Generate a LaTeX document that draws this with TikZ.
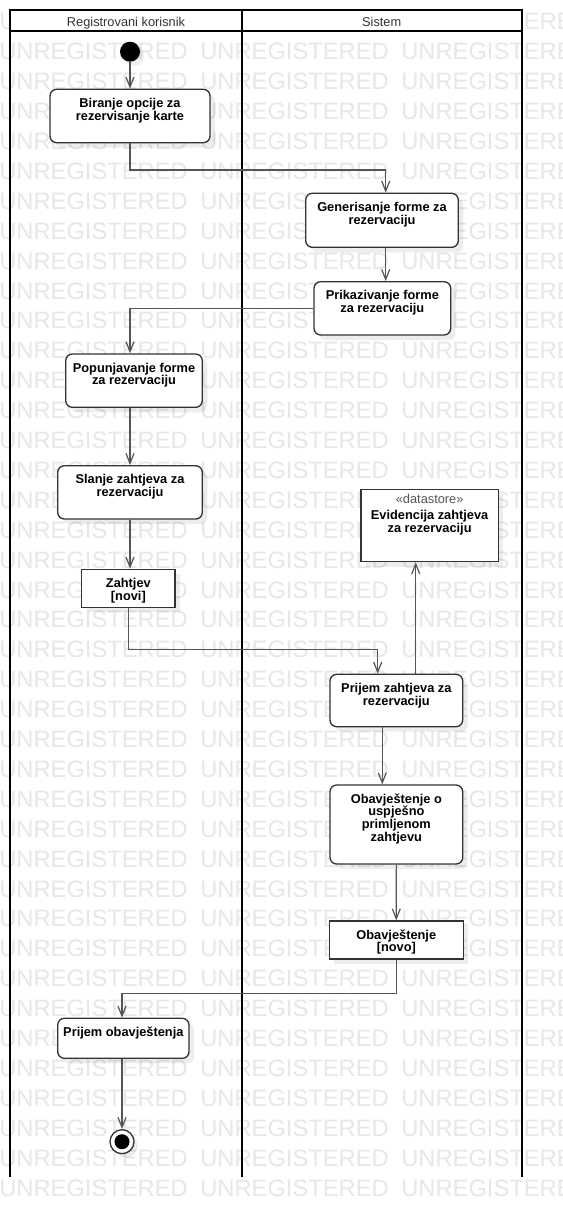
\documentclass[tikz,border=0pt]{standalone}
\usepackage{fontspec}
\setmainfont{Liberation Sans}
\usetikzlibrary{arrows.meta,fit,shadows}

\definecolor{boxc}{RGB}{51,51,51}
\definecolor{flowc}{RGB}{85,85,85}
\definecolor{wmc}{RGB}{231,231,231}
\definecolor{hdrc}{RGB}{51,51,51}
\definecolor{stc}{RGB}{85,85,85}

% fixes the height of the first text line in every action box
\newcommand{\boxstrut}{\rule{0pt}{7.5pt}}

\begin{document}
\begin{tikzpicture}[x=0.75pt,y=-0.75pt,
  lane/.style={line width=1.5pt, draw=black},
  wm/.style={inner sep=0pt, anchor=west, text=wmc, font=\fontsize{17.8pt}{17.8pt}\selectfont},
  hdr/.style={inner sep=0pt, anchor=base, text=hdrc, font=\fontsize{9.6pt}{9.6pt}\selectfont},
  act/.style={draw=boxc, line width=1pt, fill=white, rounded corners=5pt, inner sep=0pt,
    general shadow={fill=black, fill opacity=0.07, shadow xshift=3.75pt, shadow yshift=-3.75pt}},
  obj/.style={act, sharp corners},
  txt/.style={anchor=north, inner sep=0pt, align=center, text=black,
    font=\bfseries\fontsize{9.6pt}{9.6pt}\selectfont},
  flow/.style={draw=flowc, line width=0.9pt, -{Straight Barb[length=7.5pt,width=6pt]}},
]
\useasboundingbox (0,0) rectangle (562,1218);
\clip (0,0) rectangle (562,1218);
\fill[white] (0,0) rectangle (562,1218);

% background watermark
\foreach \r in {0,...,39}{
  \foreach \c in {0,1,2}{
    \node[wm] (wm-\r-\c) at ({\c*201-1},{21.8+29.9*\r}) {UNREGISTERED};
  }
}

% swimlanes
\fill[white] (10,10) rectangle (521.7,31);
\draw[lane] (10,1177.3) -- (10,10) -- (521.7,10) -- (521.7,1177.3);
\draw[lane] (10,31) -- (521.7,31);
\draw[lane] (241.7,10) -- (241.7,1177.3);
\node[hdr] (h1) at (126,26) {Registrovani korisnik};
\node[hdr] (h2) at (381.7,26) {Sistem};

% initial and final nodes
\node[circle, fill=black, minimum size=15pt, inner sep=0pt,
  general shadow={fill=black, fill opacity=0.07, shadow xshift=3pt, shadow yshift=-3pt}] (start) at (130,51.7) {};
\node[circle, draw=boxc, fill=white, line width=1pt, minimum size=18pt, inner sep=0pt,
  general shadow={fill=black, fill opacity=0.07, shadow xshift=3pt, shadow yshift=-3pt}] (end) at (122,1141.7) {};
\node[circle, fill=black, minimum size=11.25pt, inner sep=0pt] (endin) at (end) {};

% actions and objects
\node[act, fit={(50,89.3) (210,142.7)}] (b1) {};
\node[txt] (b1-t) at ([yshift=-6.3pt]b1.north) {\boxstrut Biranje opcije za\\rezervisanje karte};

\node[act, fit={(305.7,193.3) (458.3,247.3)}] (gen) {};
\node[txt] (gen-t) at ([yshift=-6.3pt]gen.north) {\boxstrut Generisanje forme za\\rezervaciju};

\node[act, fit={(314,281.7) (450.7,335)}] (prik) {};
\node[txt] (prik-t) at ([yshift=-6.3pt]prik.north) {\boxstrut Prikazivanje forme\\za rezervaciju};

\node[act, fit={(65.7,354) (202.3,407.3)}] (pop) {};
\node[txt] (pop-t) at ([yshift=-6.3pt]pop.north) {\boxstrut Popunjavanje forme\\za rezervaciju};

\node[act, fit={(57.7,465.7) (202.3,519)}] (sl) {};
\node[txt] (sl-t) at ([yshift=-6.3pt]sl.north) {\boxstrut Slanje zahtjeva za\\rezervaciju};

\node[obj, fit={(81.7,569.3) (175,607.3)}] (zah) {};
\node[txt] (zah-t) at ([yshift=-6.3pt]zah.north) {\boxstrut Zahtjev\\{[novi]}};

\node[obj, fit={(361,489.3) (498.3,561.7)}] (ds) {};
\node[inner sep=0pt, anchor=base, text=stc, font=\fontsize{9.6pt}{9.6pt}\selectfont] (ds-s) at ([yshift=-11.25pt]ds.north) {«datastore»};
\node[txt] (ds-t) at ([yshift=-15.75pt]ds.north) {\boxstrut Evidencija zahtjeva\\za rezervaciju};

\node[act, fit={(330,674.3) (462.7,726.7)}] (prij) {};
\node[txt] (prij-t) at ([yshift=-6.3pt]prij.north) {\boxstrut Prijem zahtjeva za\\rezervaciju};

\node[act, fit={(330,785) (462.7,864)}] (obav) {};
\node[txt] (obav-t) at ([yshift=-6.3pt]obav.north) {\boxstrut Obavještenje o\\uspješno\\primljenom\\zahtjevu};

\node[obj, fit={(329.3,921) (463.3,959)}] (obn) {};
\node[txt] (obn-t) at ([yshift=-6.3pt]obn.north) {\boxstrut Obavještenje\\{[novo]}};

\node[act, fit={(57.7,1018.3) (189,1058.3)}] (pobav) {};
\node[txt] (pobav-t) at ([yshift=-6.3pt]pobav.north) {\boxstrut Prijem obavještenja};

% bend points of the control flows
\coordinate (r1) at (385.7,170);
\coordinate (r3) at (377.7,649.3);
\coordinate (r4) at (415.7,600);
\coordinate (r5) at (382.3,760);
\coordinate (r6) at (122,993.3);

% control and object flows
\draw[flow] (start) -- (b1);
\draw[flow] (b1.south) |- (r1) -- (gen.north -| r1);
\draw[flow] (gen.south -| r1) -- (prik.north -| r1);
\draw[flow] (prik.west) -| (pop.north -| sl.north);
\draw[flow] (pop.south -| sl.north) -- (sl.north);
\draw[flow] (sl.south) -- (sl.south |- zah.north);
\draw[flow] (zah.south) |- (r3) -- (prij.north -| r3);
\draw[flow] (prij.north -| r4) -- (ds.south -| r4);
\draw[flow] (prij.south -| r5) -- (obav.north -| r5);
\draw[flow] (obav.south) -- (obn.north);
\draw[flow] (obn.south) |- (r6) -- (pobav.north -| r6);
\draw[flow] (pobav.south -| r6) -- (end);
\end{tikzpicture}
\end{document}
